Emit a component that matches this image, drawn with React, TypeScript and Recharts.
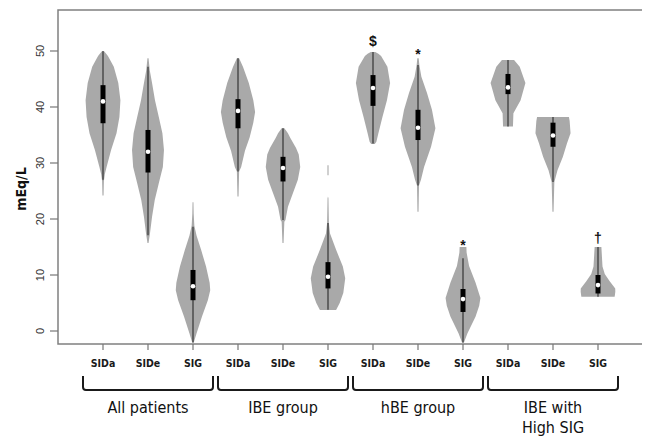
import React from 'react';
import { ComposedChart, Scatter, XAxis, YAxis, ReferenceArea, Label } from 'recharts';

// ---------- data ----------
const categories = ['SIDa', 'SIDe', 'SIG', 'SIDa', 'SIDe', 'SIG', 'SIDa', 'SIDe', 'SIG', 'SIDa', 'SIDe', 'SIG'];
const groupLabels = [['All patients'], ['IBE group'], ['hBE group'], ['IBE with', 'High SIG']];
const groupCenters = [2, 5, 8, 11];
const yTicks = [0, 10, 20, 30, 40, 50];
const xTicks = [1, 2, 3, 4, 5, 6, 7, 8, 9, 10, 11, 12];
const yMin = -2.32;
const yMax = 57.32;

// violin density profiles: [value (mEq/L), half width (share of a category slot)]
const violinAllSIDa: [number, number][] = [[24.2, 0.012], [26.8, 0.02], [28, 0.04], [29.3, 0.08], [32.3, 0.18], [35.3, 0.3], [38.2, 0.365], [41.2, 0.387], [44.3, 0.34], [47.2, 0.24], [49.1, 0.11], [49.9, 0.03]];
const violinAllSIDe: [number, number][] = [[15.7, 0.012], [17.5, 0.045], [20.4, 0.09], [23.4, 0.15], [26.4, 0.24], [29.3, 0.33], [32.3, 0.355], [35.3, 0.32], [38.2, 0.24], [41.2, 0.155], [44.3, 0.09], [46.5, 0.04], [48.7, 0.012]];
const violinAllSIG: [number, number][] = [[-2.2, 0.012], [-0.4, 0.08], [2.6, 0.2], [5.5, 0.33], [7.3, 0.383], [8.6, 0.37], [11.5, 0.29], [14.5, 0.18], [17, 0.08], [18.8, 0.03], [21, 0.015], [23, 0.01]];
const violinIbeSIDa: [number, number][] = [[24, 0.012], [28.5, 0.025], [29.3, 0.07], [32.2, 0.155], [34.6, 0.26], [37.2, 0.34], [39.1, 0.38], [41.2, 0.34], [44.3, 0.24], [47.2, 0.11], [48.7, 0.025]];
const violinIbeSIDe: [number, number][] = [[15.7, 0.012], [19.5, 0.03], [19.8, 0.055], [22.2, 0.11], [24.6, 0.22], [27, 0.33], [29.3, 0.383], [31.5, 0.35], [32.7, 0.29], [34.5, 0.16], [35.3, 0.11], [36.2, 0.03]];
const violinIbeSIG: [number, number][] = [[3.75, 0.18], [5, 0.26], [6.8, 0.34], [9.4, 0.383], [11.5, 0.33], [14.5, 0.18], [17.4, 0.045], [19.3, 0.02], [23.7, 0.01], [24, 0], [27.8, 0], [27.8, 0.012], [29.6, 0.012]];
const violinHbeSIDa: [number, number][] = [[33.4, 0.04], [33.8, 0.075], [35.3, 0.12], [38.2, 0.21], [41.2, 0.31], [44.3, 0.38], [47.2, 0.32], [49.1, 0.18], [49.5, 0.12], [49.8, 0.05]];
const violinHbeSIDe: [number, number][] = [[21.3, 0.012], [26, 0.022], [27, 0.066], [29.3, 0.135], [32.9, 0.29], [36.2, 0.387], [39.5, 0.31], [42.5, 0.2], [45.4, 0.075], [47.5, 0.03], [48.7, 0.015]];
const violinHbeSIG: [number, number][] = [[-2.2, 0.015], [-0.4, 0.1], [2.6, 0.28], [4.5, 0.36], [5.9, 0.387], [8.6, 0.28], [11.6, 0.135], [14, 0.08], [15, 0.075]];
const violinHighSIDa: [number, number][] = [[36.5, 0.11], [38.9, 0.12], [41.2, 0.28], [44.3, 0.387], [47.2, 0.26], [48.4, 0.135]];
const violinHighSIDe: [number, number][] = [[21.3, 0.012], [26.6, 0.03], [28.7, 0.1], [31.1, 0.22], [33.5, 0.31], [35.3, 0.39], [37.5, 0.37], [38.2, 0.354]];
const violinHighSIG: [number, number][] = [[6.1, 0.37], [7.0, 0.385], [7.6, 0.383], [8.9, 0.26], [10.2, 0.15], [11.5, 0.1], [15, 0.075]];

const violins = [
  violinAllSIDa, violinAllSIDe, violinAllSIG,
  violinIbeSIDa, violinIbeSIDe, violinIbeSIG,
  violinHbeSIDa, violinHbeSIDe, violinHbeSIG,
  violinHighSIDa, violinHighSIDe, violinHighSIG,
];

// box-plot statistics per category
const whiskerLow = [27, 17.1, -2, 28.5, 19.8, 3.8, 33.5, 26, -2, 36.5, 26.6, 6.1];
const q1 = [37.1, 28.3, 5.5, 36.2, 26.7, 7.6, 40.2, 34.1, 3.4, 42.3, 32.9, 6.7];
const medians = [41, 32, 8, 39.3, 29.1, 9.7, 43.4, 36.3, 5.7, 43.5, 34.9, 8.2];
const q3 = [43.9, 35.9, 10.9, 41.4, 31.1, 12.3, 45.7, 39.5, 7.5, 45.9, 37.2, 10];
const whiskerHigh = [50, 47.2, 18.6, 48.7, 36.2, 19.3, 49.8, 47.5, 13, 48.4, 38.2, 15];

// significance marks
const markSymbols = ['$', '*', '*', '†'];
const markIndex = [7, 8, 9, 12];
const markValue = [50.9, 48.6, 14.4, 15.7];

// ---------- styling ----------
const NARROW = '"Liberation Sans Narrow", "DejaVu Sans Condensed", "Roboto Condensed", sans-serif';
const SANS = '"Liberation Sans", Arial, sans-serif';
const VIOLIN_FILL = '#a9a9a9';

const outline = (pos: number, prof: [number, number][]) => {
  const right = prof.map(([v, w]) => ({ x: pos + w, y: v }));
  const left = [...prof].reverse().map(([v, w]) => ({ x: pos - w, y: v }));
  return [...right, ...left];
};

const NoShape = () => <g />;

const XTick = (props: any) => {
  const { x, y, payload } = props;
  const v = payload.value as number;
  const gi = groupCenters.indexOf(v);
  const hw = 65;
  const top = y + 24;
  const bot = y + 38;
  const r = 3;
  return (
    <g>
      <text x={x} y={y + 11} textAnchor="middle" dominantBaseline="central" fontFamily={NARROW} fontWeight="bold" fontSize={10.5} fill="#1a1a1a">
        {categories[v - 1]}
      </text>
      {gi >= 0 && (
        <g>
          <path
            d={`M${x - hw},${top} L${x - hw},${bot - r} Q${x - hw},${bot} ${x - hw + r},${bot} L${x + hw - r},${bot} Q${x + hw},${bot} ${x + hw},${bot - r} L${x + hw},${top}`}
            stroke="#1a1a1a"
            strokeWidth={2}
            fill="none"
          />
          {groupLabels[gi].map((t, k) => (
            <text key={k} x={x} y={y + 55 + k * 20} textAnchor="middle" dominantBaseline="central" fontFamily={NARROW} fontSize={16} fill="#111">
              {t}
            </text>
          ))}
        </g>
      )}
    </g>
  );
};

const YTick = (props: any) => {
  const { x, y, payload } = props;
  const cx = x - 8;
  return (
    <text x={cx} y={y} transform={`rotate(-90, ${cx}, ${y})`} textAnchor="middle" dominantBaseline="central" fontFamily={SANS} fontSize={11} fill="#333">
      {payload.value}
    </text>
  );
};

const YLabel = (props: any) => {
  const vb = props.viewBox || { x: 0, y: 0, width: 50, height: 334 };
  const cx = vb.x + 13;
  const cy = vb.y + vb.height / 2 + 12;
  return (
    <text x={cx} y={cy} transform={`rotate(-90, ${cx}, ${cy})`} textAnchor="middle" dominantBaseline="central" fontFamily={NARROW} fontWeight="bold" fontSize={14} fill="#111">
      mEq/L
    </text>
  );
};

const MedianDot = (props: any) => <circle cx={props.cx} cy={props.cy} r={2.3} fill="#ffffff" />;

const MarkText = (props: any) => (
  <text x={props.cx} y={props.cy} textAnchor="middle" fontFamily={SANS} fontWeight="bold" fontSize={14} fill="#111">
    {props.payload.label}
  </text>
);

export default function App() {
  const medianData = medians.map((m, i) => ({ x: i + 1, y: m }));
  const markData = markSymbols.map((s, i) => ({ x: markIndex[i], y: markValue[i], label: s }));
  return (
    <ComposedChart width={640} height={428} margin={{ top: 2, right: 5, bottom: 2, left: 0 }}>
      <XAxis
        type="number"
        dataKey="x"
        domain={[0, 13]}
        allowDataOverflow
        ticks={xTicks}
        interval={0}
        axisLine={false}
        tickSize={6}
        tickLine={{ stroke: '#777', strokeWidth: 1.2 }}
        tick={<XTick />}
        height={90}
      />
      <YAxis
        type="number"
        dataKey="y"
        domain={[yMin, yMax]}
        allowDataOverflow
        ticks={yTicks}
        interval={0}
        axisLine={false}
        tickSize={8}
        tickLine={{ stroke: '#777', strokeWidth: 1.2 }}
        tick={<YTick />}
        width={50}
      >
        <Label content={<YLabel />} />
      </YAxis>
      <ReferenceArea x1={0} x2={13} y1={yMin} y2={yMax} fill="none" stroke="#808080" strokeWidth={1.5} ifOverflow="visible" />
      {violins.map((prof, i) => (
        <Scatter
          key={`v${i}`}
          data={outline(i + 1, prof)}
          shape={NoShape}
          line={{ fill: VIOLIN_FILL, stroke: 'none' }}
          lineType="joint"
          lineJointType="linear"
          isAnimationActive={false}
        />
      ))}
      {whiskerLow.map((lo, i) => (
        <Scatter
          key={`w${i}`}
          data={[{ x: i + 1, y: lo }, { x: i + 1, y: whiskerHigh[i] }]}
          shape={NoShape}
          line={{ stroke: '#3c3c3c', strokeWidth: 1.3, fill: 'none' }}
          lineType="joint"
          isAnimationActive={false}
        />
      ))}
      {q1.map((lo, i) => (
        <Scatter
          key={`b${i}`}
          data={[{ x: i + 1, y: lo }, { x: i + 1, y: q3[i] }]}
          shape={NoShape}
          line={{ stroke: '#000', strokeWidth: 5, fill: 'none' }}
          lineType="joint"
          isAnimationActive={false}
        />
      ))}
      <Scatter data={medianData} shape={MedianDot} isAnimationActive={false} />
      <Scatter data={markData} shape={MarkText} isAnimationActive={false} />
    </ComposedChart>
  );
}
